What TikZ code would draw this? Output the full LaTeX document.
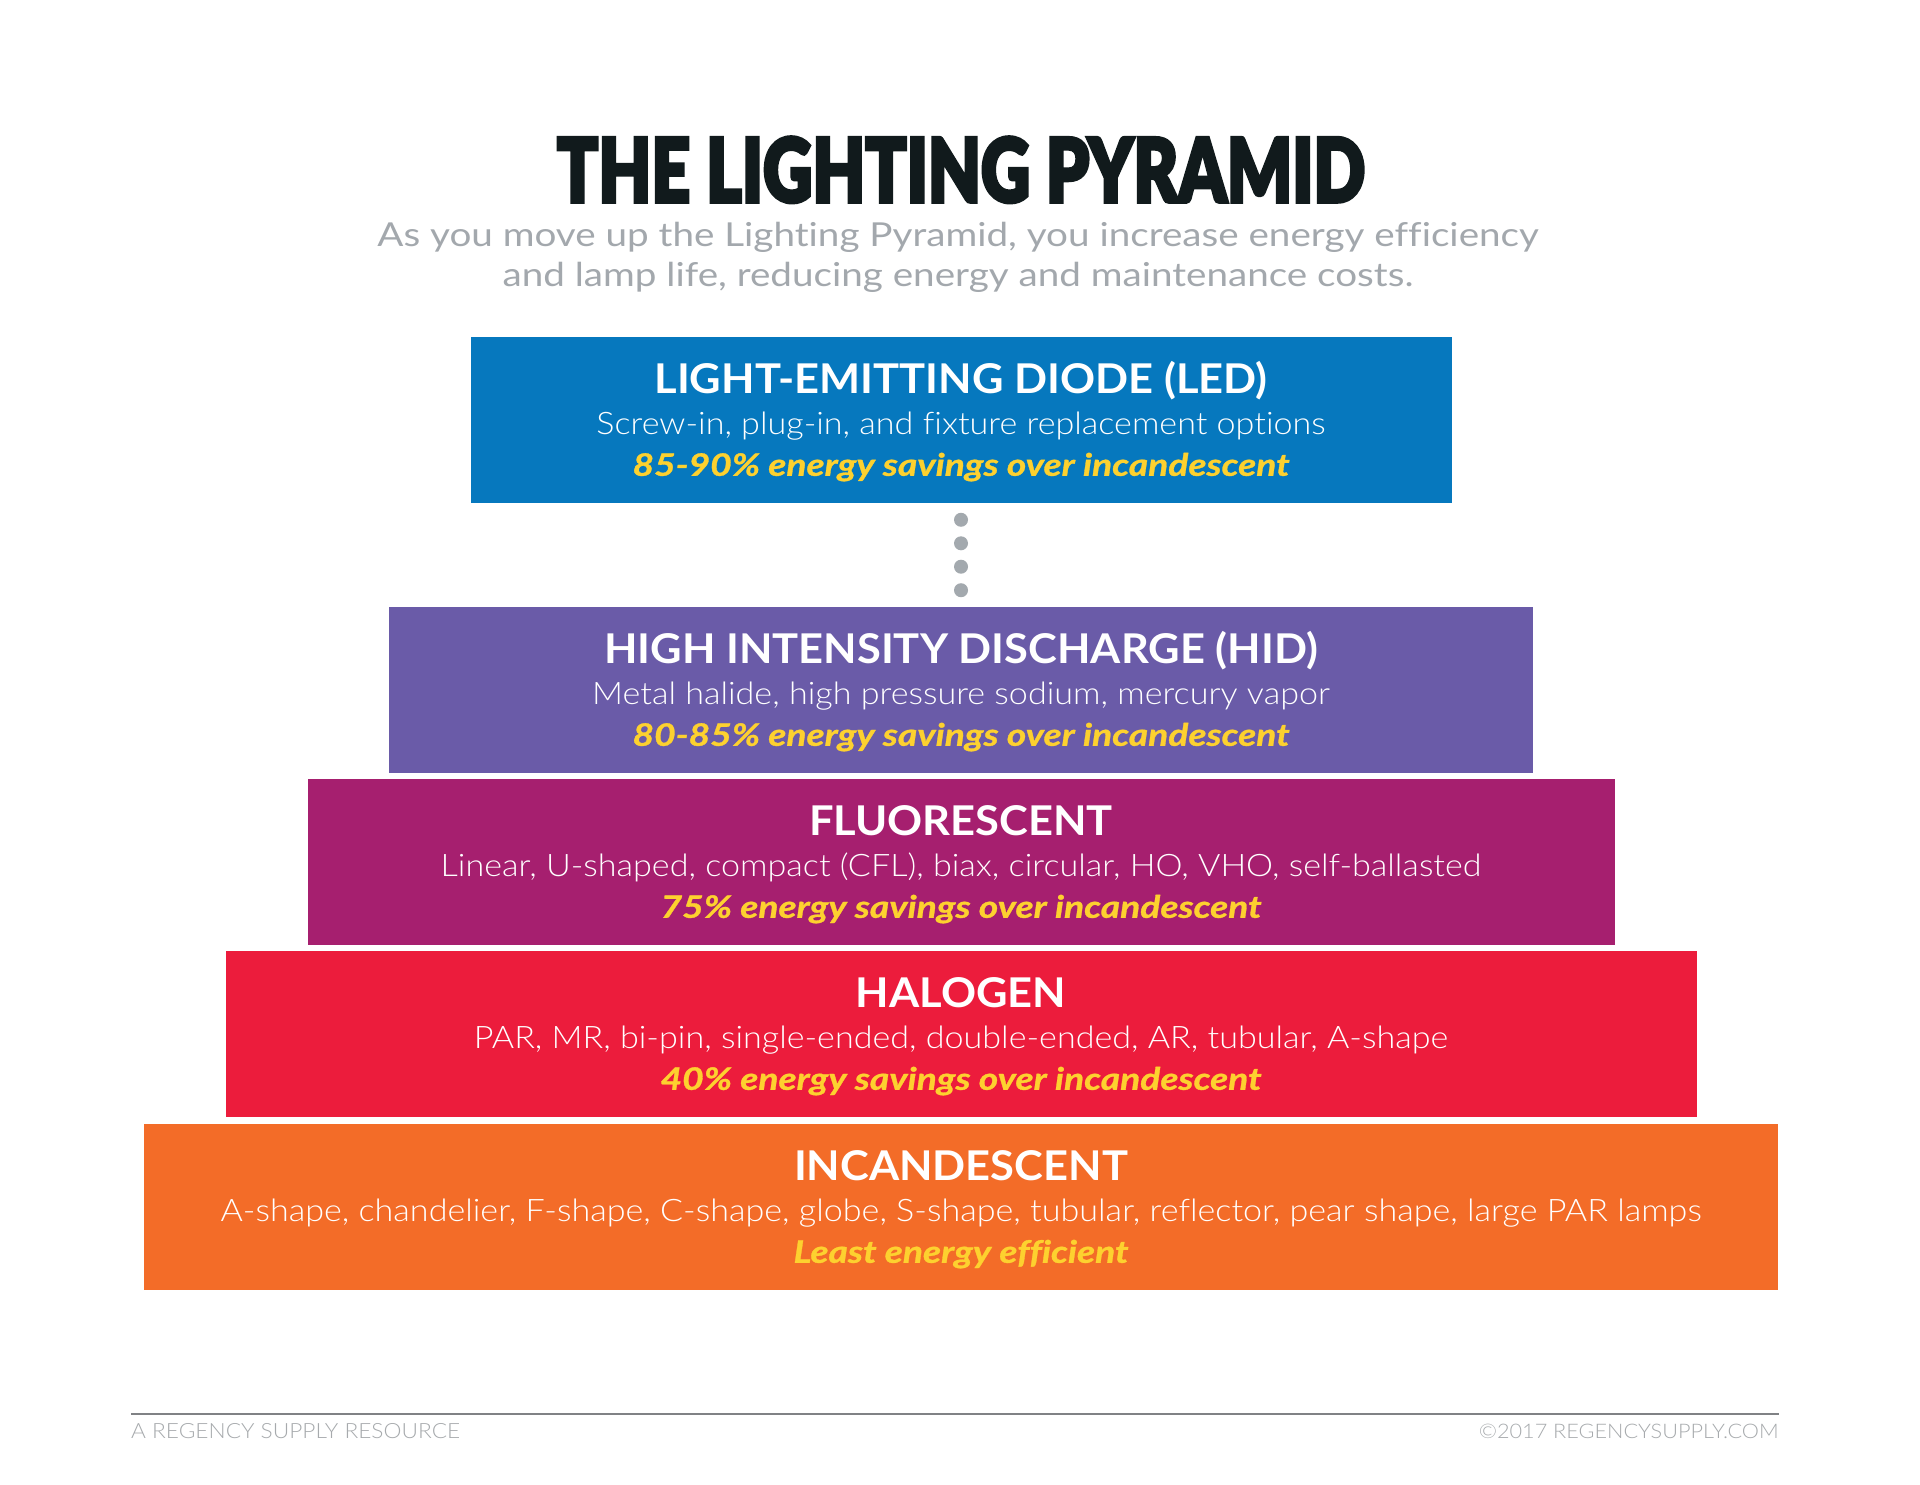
\documentclass[tikz,border=0pt]{standalone}
\usepackage{fontspec}
\usepackage{graphicx}
\usetikzlibrary{calc}
\setmainfont{Lato}[Ligatures=NoCommon]
\newfontfamily\headfont{Lato}[FakeStretch=1.06, Ligatures=NoCommon]
\newfontfamily\subfont{Lato}[FakeStretch=1.17, Ligatures=NoCommon]
\newfontfamily\gainfont{Lato}[FakeStretch=1.2, FakeBold=1, Ligatures=NoCommon]
\IfFontExistsTF{Lato Light}
  {\newfontfamily\litefont{Lato Light}[FakeStretch=1.1, Ligatures=NoCommon]
   \newfontfamily\footfont{Lato Light}[FakeStretch=1.08]}
  {\newfontfamily\litefont{Lato}[FakeStretch=1.1, Ligatures=NoCommon]
   \newfontfamily\footfont{Lato}[FakeStretch=1.08]}
\IfFontExistsTF{Lato Black}{\newfontfamily\heavyfont{Lato Black}[FakeBold=4]}{\newfontfamily\heavyfont{Lato}[FakeBold=4]}
\definecolor{ledblue}{HTML}{0678BE}
\definecolor{hidpurple}{HTML}{6A5BA8}
\definecolor{fluormagenta}{HTML}{A61F6F}
\definecolor{halored}{HTML}{EC1C3C}
\definecolor{incorange}{HTML}{F36C28}
\definecolor{saveyellow}{HTML}{FDD12F}
\definecolor{subgray}{HTML}{A3A8AD}
\definecolor{dotgray}{HTML}{A3A9AE}
\definecolor{rulegray}{HTML}{808285}
\definecolor{footgray}{HTML}{A7AAAD}
\definecolor{titleblack}{HTML}{111A1C}

\begin{document}
\begin{tikzpicture}[x=1pt, y=-1pt,
  tier/.style={minimum height=166pt, inner sep=0pt},
  head/.style={anchor=base, text=white, font=\headfont\bfseries\fontsize{41}{48}\selectfont},
  kind/.style={anchor=base, text=white, font=\litefont\fontsize{31}{36}\selectfont},
  gain/.style={anchor=base, text=saveyellow, font=\gainfont\bfseries\itshape\fontsize{31}{36}\selectfont},
  subline/.style={anchor=base, text=subgray, font=\subfont\fontsize{33}{40}\selectfont},
  foot/.style={text=footgray, font=\footfont\fontsize{21}{24}\selectfont}]
\useasboundingbox (0,0) rectangle (1920,1484);
\fill[white] (0,0) rectangle (1920,1484);

%title
\node[anchor=base, inner sep=0pt, text=titleblack] (title) at (961,202)
  {\resizebox{808pt}{65pt}{\heavyfont THE LIGHTING PYRAMID}};
\node[subline] (sub1) at (958,246) {As you move up the Lighting Pyramid, you increase energy efficiency};
\node[subline] (sub2) at (958,286) {and lamp life, reducing energy and maintenance costs.};

%tiers
\node[tier, fill=ledblue, minimum width=981pt] (led) at (961,420) {};
\node[tier, fill=hidpurple, minimum width=1144pt] (hid) at (961,690) {};
\node[tier, fill=fluormagenta, minimum width=1307pt] (fluor) at (961,862) {};
\node[tier, fill=halored, minimum width=1471pt] (halogen) at (961,1034) {};
\node[tier, fill=incorange, minimum width=1634pt] (incand) at (961,1207) {};

%led
\node[head] (ledhead) at ($(led.north)+(0,57)$) {LIGHT-EMITTING DIODE (LED)};
\node[kind] (ledkind) at ($(led.north)+(0,98)$) {Screw-in, plug-in, and fixture replacement options};
\node[gain] (ledgain) at ($(led.north)+(0,139)$) {85-90\% energy savings over incandescent};

%hid
\node[head] (hidhead) at ($(hid.north)+(0,57)$) {HIGH INTENSITY DISCHARGE (HID)};
\node[kind] (hidkind) at ($(hid.north)+(0,98)$) {Metal halide, high pressure sodium, mercury vapor};
\node[gain] (hidgain) at ($(hid.north)+(0,139)$) {80-85\% energy savings over incandescent};

%fluorescent
\node[head] (fluorhead) at ($(fluor.north)+(0,57)$) {FLUORESCENT};
\node[kind] (fluorkind) at ($(fluor.north)+(0,98)$) {Linear, U-shaped, compact (CFL), biax, circular, HO, VHO, self-ballasted};
\node[gain] (fluorgain) at ($(fluor.north)+(0,139)$) {75\% energy savings over incandescent};

%halogen
\node[head] (halogenhead) at ($(halogen.north)+(0,57)$) {HALOGEN};
\node[kind] (halogenkind) at ($(halogen.north)+(0,98)$) {PAR, MR, bi-pin, single-ended, double-ended, AR, tubular, A-shape};
\node[gain] (halogengain) at ($(halogen.north)+(0,139)$) {40\% energy savings over incandescent};

%incandescent
\node[head] (incandhead) at ($(incand.north)+(0,57)$) {INCANDESCENT};
\node[kind] (incandkind) at ($(incand.north)+(0,98)$) {A-shape, chandelier, F-shape, C-shape, globe, S-shape, tubular, reflector, pear shape, large PAR lamps};
\node[gain] (incandgain) at ($(incand.north)+(0,139)$) {Least energy efficient};

%dots
\foreach \f in {0.16,0.387,0.613,0.84}
  \fill[dotgray] ($(led.south)!\f!(hid.north)$) circle (7pt);

%footer
\draw[rulegray, line width=2pt] (131,1414) -- (1779,1414);
\node[foot, anchor=base west, inner sep=0pt] (source) at (131,1438) {A REGENCY SUPPLY RESOURCE};
\node[foot, anchor=base east, inner sep=0pt] (site) at (1779,1438) {\resizebox{300pt}{!}{©2017 REGENCYSUPPLY.COM}};
\end{tikzpicture}
\end{document}
